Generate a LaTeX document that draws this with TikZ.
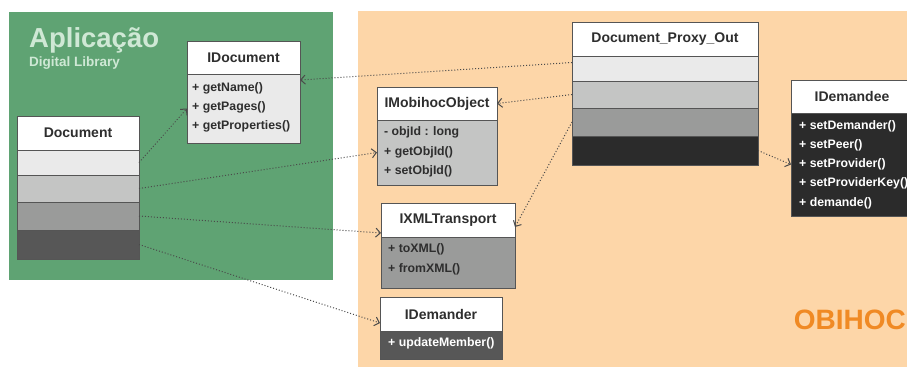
\documentclass[tikz,border=0pt]{standalone}
\usepackage{fontspec}
\setmainfont{Liberation Sans}
\usetikzlibrary{arrows.meta}

\definecolor{appgreen}{HTML}{5FA373}
\definecolor{applabel}{HTML}{CFE8D5}
\definecolor{peach}{HTML}{FDD6A8}
\definecolor{obihoc}{HTML}{F08A24}
\definecolor{boxline}{HTML}{555555}
\definecolor{ink}{HTML}{2E2E2E}
\definecolor{connc}{HTML}{4A4A4A}
\definecolor{shadeA}{HTML}{EAEAEA}
\definecolor{shadeB}{HTML}{C4C5C4}
\definecolor{shadeC}{HTML}{9A9B9A}
\definecolor{shadeD}{HTML}{575757}
\definecolor{shadeE}{HTML}{2B2B2B}

\tikzset{
  box/.style={draw=boxline, line width=0.9pt, inner sep=0pt, outer sep=0pt,
              anchor=north west},
  head/.style={box, fill=white, text=ink,
               font=\bfseries\fontsize{14}{16}\selectfont},
  item/.style={anchor=west, inner sep=0pt, text=ink,
               font=\bfseries\fontsize{12.3}{14}\selectfont},
  itemw/.style={item, text=white},
  conn/.style={draw=connc, line width=1pt, dash pattern=on 1pt off 2pt,
               -{Straight Barb[length=4.5pt,width=9pt]}},
}

\begin{document}
\begin{tikzpicture}[x=1pt,y=-1pt]
\useasboundingbox (0,0) rectangle (907,367);
\clip (0,0) rectangle (907,367);

% panels
\fill[appgreen] (9,12) rectangle (333,280);
\fill[peach] (358,11) rectangle (907,367);

\node[anchor=base west, inner sep=0pt, text=applabel,
      font=\bfseries\fontsize{27.5}{30}\selectfont] (apptitle) at (29,47) {Aplicação};
\node[anchor=base west, inner sep=0pt, text=applabel,
      font=\bfseries\fontsize{13.5}{15}\selectfont] (appsub) at (29,66.5) {Digital Library};
\node[anchor=base east, inner sep=0pt, text=obihoc,
      font=\bfseries\fontsize{28}{30}\selectfont] (obtitle) at (906,329) {OBIHOC};

% Document
\node[head, minimum width=122pt, minimum height=34pt] (docH) at (17,116) {Document};
\node[box, fill=shadeA, minimum width=122pt, minimum height=25pt] (doc1) at (17,150) {};
\node[box, fill=shadeB, minimum width=122pt, minimum height=27pt] (doc2) at (17,175) {};
\node[box, fill=shadeC, minimum width=122pt, minimum height=28pt] (doc3) at (17,202) {};
\node[box, fill=shadeD, minimum width=122pt, minimum height=29pt] (doc4) at (17,230) {};

% IDocument
\node[head, minimum width=113pt, minimum height=33pt] (idocH) at (187,41) {IDocument};
\node[box, fill=shadeA, minimum width=113pt, minimum height=69pt] (idocB) at (187,74) {};
\node[item] (idoc1) at (192,88) {+ getName()};
\node[item] (idoc2) at (192,107) {+ getPages()};
\node[item] (idoc3) at (192,126) {+ getProperties()};

% Document_Proxy_Out
\node[head, minimum width=186pt, minimum height=34pt] (pxH) at (572,22) {Document\_Proxy\_Out};
\node[box, fill=shadeA, minimum width=186pt, minimum height=25pt] (px1) at (572,56) {};
\node[box, fill=shadeB, minimum width=186pt, minimum height=27pt] (px2) at (572,81) {};
\node[box, fill=shadeC, minimum width=186pt, minimum height=28pt] (px3) at (572,108) {};
\node[box, fill=shadeE, minimum width=186pt, minimum height=29pt] (px4) at (572,136) {};

% IMobihocObject
\node[head, minimum width=120pt, minimum height=33pt] (imoH) at (377,87) {IMobihocObject};
\node[box, fill=shadeB, minimum width=120pt, minimum height=65pt] (imoB) at (377,120) {};
\node[item] (imo1) at (384,132.5) {- objId : long};
\node[item] (imo2) at (384,152) {+ getObjId()};
\node[item] (imo3) at (384,171) {+ setObjId()};

% IXMLTransport
\node[head, minimum width=134pt, minimum height=34pt] (ixH) at (381,203) {IXMLTransport};
\node[box, fill=shadeC, minimum width=134pt, minimum height=51pt] (ixB) at (381,237) {};
\node[item] (ix1) at (388,249) {+ toXML()};
\node[item] (ix2) at (388,269) {+ fromXML()};

% IDemander
\node[head, minimum width=122pt, minimum height=34pt] (idmH) at (380,297) {IDemander};
\node[box, fill=shadeD, minimum width=122pt, minimum height=28pt] (idmB) at (380,331) {};
\node[itemw] (idm1) at (388,343) {+ updateMember()};

% IDemandee
\node[head, minimum width=122pt, minimum height=33pt] (ideH) at (791,80) {IDemandee};
\node[box, fill=shadeE, minimum width=122pt, minimum height=103pt] (ideB) at (791,113) {};
\node[itemw] (ide1) at (799,126) {+ setDemander()};
\node[itemw] (ide2) at (799,145) {+ setPeer()};
\node[itemw] (ide3) at (799,164) {+ setProvider()};
\node[itemw] (ide4) at (799,183) {+ setProviderKey()};
\node[itemw] (ide5) at (799,203) {+ demande()};

% dependencies
\draw[conn] (doc1.east) -- (idocB.west);
\draw[conn] (doc2.east) -- (imoB.west);
\draw[conn] (doc3.east) -- ([yshift=-13pt]ixH.west);
\draw[conn] (doc4.east) -- ([yshift=-9pt]idmH.west);
\draw[conn] ([yshift=6pt]px1.west) -- ([yshift=-6pt]idocB.north east);
\draw[conn] (px2.west) -- (imoH.east);
\draw[conn] (px3.west) -- ([yshift=-7pt]ixH.east);
\draw[conn] (px4.east) -- (ideB.west);
\end{tikzpicture}
\end{document}
